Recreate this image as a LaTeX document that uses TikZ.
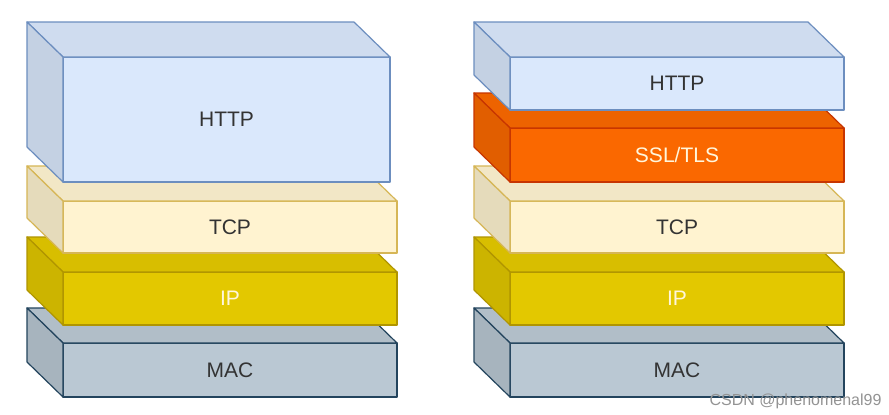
\documentclass[tikz,border=0pt]{standalone}
\usepackage{fontspec}
\setmainfont{Liberation Sans}
\usepackage{xcolor}
\usepackage{tikz}
\usetikzlibrary{calc}
\definecolor{httpfill}{HTML}{DAE8FC}
\definecolor{httpline}{HTML}{6C8EBF}
\definecolor{tcpfill}{HTML}{FFF3D0}
\definecolor{tcpline}{HTML}{D6B656}
\definecolor{ipfill}{HTML}{E3C800}
\definecolor{ipline}{HTML}{B09500}
\definecolor{sslfill}{HTML}{FA6800}
\definecolor{sslline}{HTML}{C73500}
\definecolor{macfill}{HTML}{BAC8D3}
\definecolor{macline}{HTML}{23445D}
\definecolor{txtdark}{HTML}{333333}
\definecolor{txtlight}{HTML}{FFF6DC}

% top and left faces of a cube, drawn round its front node
\newcommand{\cubefaces}[3]{%
  \filldraw[face, fill=#2!95!black, draw=#3] (#1.north west) -- ++(-36,-35)
    -- ($(#1.north east)+(-36,-35)$) -- (#1.north east) -- cycle;
  \filldraw[face, fill=#2!90!black, draw=#3] (#1.south west) -- (#1.north west)
    -- ++(-36,-35) -- ($(#1.south west)+(-36,-35)$) -- cycle;
}

\begin{document}
\begin{tikzpicture}[
    x=1pt, y=-1pt,
    layer/.style={draw, line width=1.2pt, line join=round, inner sep=0pt, outer sep=0pt,
      minimum width=334pt, minimum height=53pt, text=txtdark,
      font=\fontsize{21}{24}\selectfont},
    face/.style={line width=1.2pt, line join=round},
    lighttext/.style={text=txtlight},
]
    \fill[white] (0,0) rectangle (889,415);
    \useasboundingbox (0,0) rectangle (889,415);

    % plain stack
    \node[layer, fill=macfill, draw=macline, minimum height=54pt] (lmac) at (230,370) {MAC};
    \cubefaces{lmac}{macfill}{macline}
    \node[layer, fill=ipfill, draw=ipline, lighttext] (lip) at (230,298.5) {IP};
    \cubefaces{lip}{ipfill}{ipline}
    \node[layer, fill=tcpfill, draw=tcpline, minimum height=52pt] (ltcp) at (230,227) {TCP};
    \cubefaces{ltcp}{tcpfill}{tcpline}
    \node[layer, fill=httpfill, draw=httpline, minimum width=327pt, minimum height=125pt] (lhttp) at (226.5,119.5) {HTTP};
    \cubefaces{lhttp}{httpfill}{httpline}

    % stack with SSL/TLS
    \node[layer, fill=macfill, draw=macline, minimum height=54pt] (rmac) at (677,370) {MAC};
    \cubefaces{rmac}{macfill}{macline}
    \node[layer, fill=ipfill, draw=ipline, lighttext] (rip) at (677,298.5) {IP};
    \cubefaces{rip}{ipfill}{ipline}
    \node[layer, fill=tcpfill, draw=tcpline, minimum height=52pt] (rtcp) at (677,227) {TCP};
    \cubefaces{rtcp}{tcpfill}{tcpline}
    \node[layer, fill=sslfill, draw=sslline, minimum height=54pt, lighttext] (rssl) at (677,155) {SSL/TLS};
    \cubefaces{rssl}{sslfill}{sslline}
    \node[layer, fill=httpfill, draw=httpline] (rhttp) at (677,83.5) {HTTP};
    \cubefaces{rhttp}{httpfill}{httpline}

    \node[anchor=base east, text=gray!85, font=\fontsize{16}{18}\selectfont] (mark) at (885,405) {CSDN @phenomenal99};
\end{tikzpicture}
\end{document}
